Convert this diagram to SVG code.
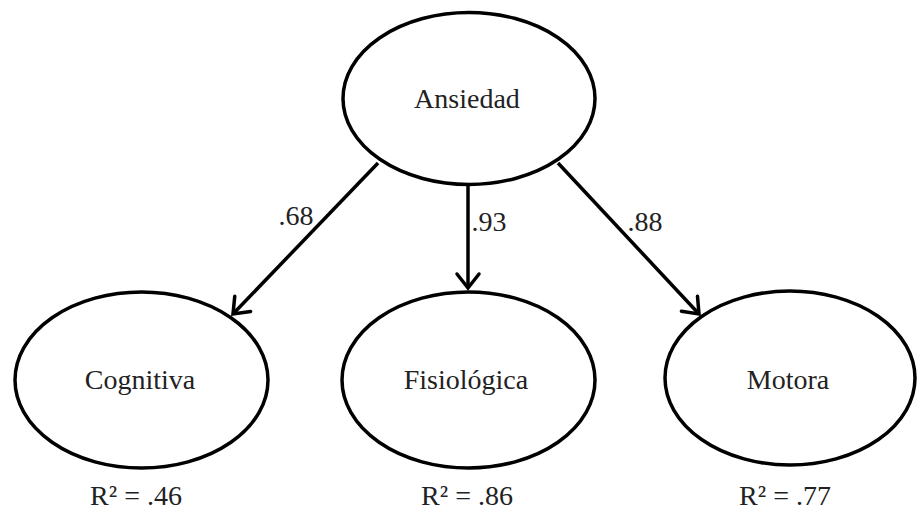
<svg xmlns="http://www.w3.org/2000/svg" width="917" height="510" viewBox="0 0 917 510">
<style>
.node{fill:#fff;stroke:#000;stroke-width:3.5}
.t{font-family:"Liberation Serif","Times New Roman",serif;font-size:28px;fill:#222;text-anchor:middle}
.c{stroke:#000;stroke-width:3.5;fill:none;marker-end:url(#ah)}
</style>
<defs>
<marker id="ah" markerUnits="userSpaceOnUse" markerWidth="30" markerHeight="30" viewBox="-20 -15 30 30" refX="0" refY="0" orient="auto">
<path d="M-14,-11 L0,0 L-14,11" fill="none" stroke="#000" stroke-width="3.5" stroke-linecap="round" stroke-linejoin="miter"/>
</marker>
</defs>
<g id="connectors">
<line class="c" x1="378" y1="163" x2="233" y2="314"/>
<line class="c" x1="468" y1="185" x2="468" y2="288"/>
<line class="c" x1="558" y1="163" x2="699" y2="314"/>
<text class="t" x="296" y="225">.68</text>
<text class="t" x="489" y="231">.93</text>
<text class="t" x="645" y="231">.88</text>
</g>
<g id="ansiedad">
<ellipse class="node" cx="469" cy="98.5" rx="126" ry="86"/>
<text class="t" x="467" y="108">Ansiedad</text>
</g>
<g id="cognitiva">
<ellipse class="node" cx="141.5" cy="380" rx="126.5" ry="88"/>
<text class="t" x="140" y="389">Cognitiva</text>
<text class="t" x="136" y="505">R² = .46</text>
</g>
<g id="fisiologica">
<ellipse class="node" cx="468.5" cy="380" rx="126.5" ry="88"/>
<text class="t" x="466" y="389">Fisiológica</text>
<text class="t" x="467" y="505">R² = .86</text>
</g>
<g id="motora">
<ellipse class="node" cx="790" cy="378" rx="125" ry="87"/>
<text class="t" x="788" y="389">Motora</text>
<text class="t" x="785" y="505">R² = .77</text>
</g>
</svg>
